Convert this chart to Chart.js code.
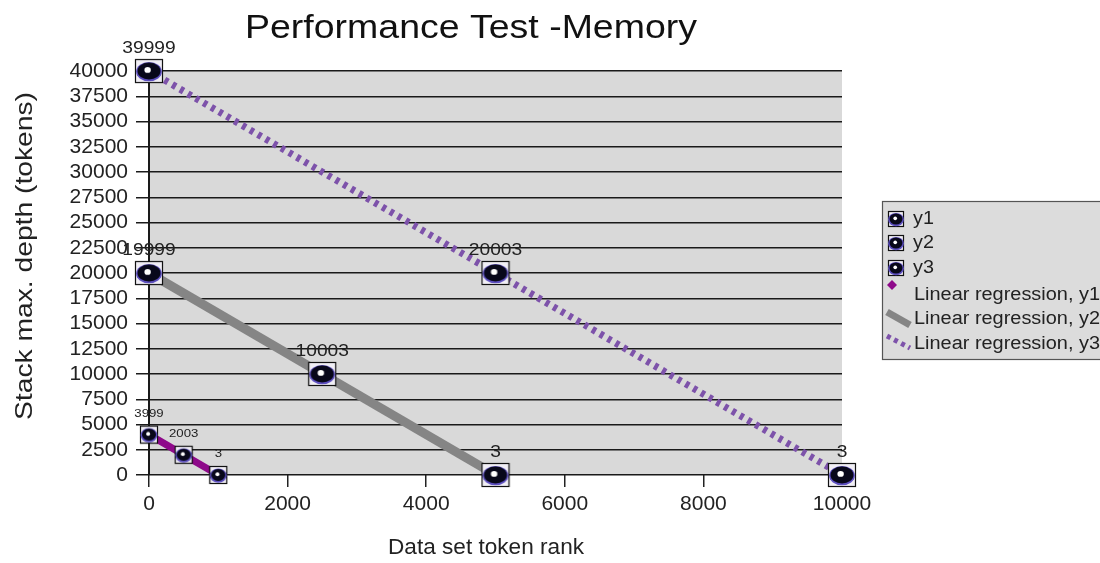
<!DOCTYPE html>
<html>
<head>
<meta charset="utf-8">
<script src="https://cdn.jsdelivr.net/npm/chart.js@4.4.0/dist/chart.umd.min.js"></script>
<style>
  html, body { margin: 0; padding: 0; background: #fff; }
  #wrap { width: 1100px; height: 563px; position: relative; }
</style>
</head>
<body>
<div id="wrap"><canvas id="memChart" width="1100" height="563"></canvas></div>
<script>
// Data
const xTicks = [0, 2000, 4000, 6000, 8000, 10000];
const y1X = [0, 500, 1000];
const y1Values = [3999, 2003, 3];
const y2X = [0, 2500, 5000];
const y2Values = [19999, 10003, 3];
const y3X = [0, 5000, 10000];
const y3Values = [39999, 20003, 3];
const seriesNames = ["y1", "y2", "y3"];
const regressionNames = ["Linear regression, y1", "Linear regression, y2", "Linear regression, y3"];

const FONT = "'Liberation Sans', Arial, sans-serif";
const regColors = ["#8e0a8a", "#858585", "#7d52aa"];

// least squares line through a series, returned as its two end points
function regression(xs, ys) {
    const n = xs.length;
    const mx = xs.reduce((a, b) => a + b, 0) / n;
    const my = ys.reduce((a, b) => a + b, 0) / n;
    let num = 0, den = 0;
    for (let i = 0; i < n; i++) {
        num += (xs[i] - mx) * (ys[i] - my);
        den += (xs[i] - mx) * (xs[i] - mx);
    }
    const slope = num / den;
    const b = my - slope * mx;
    const x0 = Math.min(...xs), x1 = Math.max(...xs);
    return [{ x: x0, y: slope * x0 + b }, { x: x1, y: slope * x1 + b }];
}

function toPoints(xs, ys) {
    return xs.map((x, i) => ({ x: x, y: ys[i] }));
}

// boxed ball marker like the original
function makeMarker(w, h, rx, ry) {
    const c = document.createElement("canvas");
    c.width = w + 2;
    c.height = h + 2;
    const g = c.getContext("2d");
    g.fillStyle = "#f1eff5";
    g.fillRect(1, 1, w, h);
    g.strokeStyle = "#111";
    g.lineWidth = 1.2;
    g.strokeRect(1.5, 1.5, w - 1, h - 1);
    const cx = c.width / 2, cy = c.height / 2;
    g.fillStyle = "#5d4fc0";
    g.beginPath(); g.ellipse(cx, cy + 0.6, rx + 1.4, ry + 1.2, 0, 0, Math.PI * 2); g.fill();
    g.fillStyle = "#08081a";
    g.beginPath(); g.ellipse(cx, cy, rx, ry, 0, 0, Math.PI * 2); g.fill();
    g.fillStyle = "#ffffff";
    g.beginPath(); g.ellipse(cx - rx * 0.12, cy - ry * 0.12, rx * 0.28, ry * 0.34, 0, 0, Math.PI * 2); g.fill();
    return c;
}

const smallMarker = makeMarker(18, 18, 7, 6);
const bigMarker = makeMarker(28, 24, 11.5, 8.5);
const legendMarker = makeMarker(16, 16, 6.5, 5.5);

// draws text squeezed or stretched to a given width
function fitText(ctx, text, x, y, font, width, angle) {
    ctx.save();
    ctx.font = font;
    ctx.textAlign = "center";
    ctx.textBaseline = "middle";
    const w = ctx.measureText(text).width;
    ctx.translate(x, y);
    if (angle) ctx.rotate(angle);
    ctx.scale(width / w, 1);
    ctx.fillText(text, 0, 0);
    ctx.restore();
}

// grey plot area
const plotBackground = {
    id: "plotBackground",
    beforeDraw(chart) {
        const a = chart.chartArea;
        const ctx = chart.ctx;
        ctx.save();
        ctx.fillStyle = "#d9d9d9";
        ctx.fillRect(a.left, a.top, a.right - a.left, a.bottom - a.top);
        ctx.restore();
    }
};

// value labels above the points, titles and legend box
const extras = {
    id: "extras",
    afterDatasetsDraw(chart) {
        const ctx = chart.ctx;
        ctx.save();
        ctx.fillStyle = "#222";
        [0, 1, 2].forEach(di => {
            const meta = chart.getDatasetMeta(di);
            const ds = chart.data.datasets[di];
            const small = di === 0;
            const font = (small ? "11px " : "16px ") + FONT;
            ctx.font = font;
            meta.data.forEach((pt, i) => {
                const txt = String(ds.data[i].y);
                const w = ctx.measureText(txt).width * 1.2;
                fitText(ctx, txt, pt.x, pt.y - (small ? 21 : 22), font, w);
            });
        });
        ctx.restore();
    },
    afterDraw(chart) {
        const ctx = chart.ctx;
        ctx.save();
        ctx.fillStyle = "#111";
        fitText(ctx, "Performance Test -Memory", 471, 29, "33px " + FONT, 452);
        ctx.fillStyle = "#222";
        fitText(ctx, "Stack max. depth (tokens)", 25, 256, "24px " + FONT, 328, -Math.PI / 2);
        fitText(ctx, "Data set token rank", 486, 548, "22px " + FONT, 196);
        ctx.restore();

        // legend
        ctx.save();
        ctx.fillStyle = "#dcdcdc";
        ctx.fillRect(882, 201, 218, 159);
        ctx.strokeStyle = "#555";
        ctx.lineWidth = 1.2;
        ctx.strokeRect(882.5, 201.5, 230, 158);
        ctx.fillStyle = "#222";
        const rowY = [219, 243, 268, 295, 319, 344];
        ctx.font = "18px " + FONT;
        seriesNames.forEach((name, i) => {
            ctx.drawImage(legendMarker, 887, rowY[i] - 9);
            const w = ctx.measureText(name).width * 1.1;
            fitText(ctx, name, 913 + w / 2, rowY[i], "18px " + FONT, w);
        });
        regressionNames.forEach((name, i) => {
            fitText(ctx, name, 914 + 93, rowY[3 + i], "18px " + FONT, 186);
        });
        // LR y1 diamond
        let y = rowY[3] - 10;
        ctx.fillStyle = regColors[0];
        ctx.beginPath();
        ctx.moveTo(892, y - 5); ctx.lineTo(897, y); ctx.lineTo(892, y + 5); ctx.lineTo(887, y);
        ctx.closePath(); ctx.fill();
        // LR y2 thick line
        y = rowY[4];
        ctx.strokeStyle = regColors[1];
        ctx.lineWidth = 7;
        ctx.beginPath(); ctx.moveTo(887, y - 7); ctx.lineTo(910, y + 6); ctx.stroke();
        // LR y3 dashed line
        y = rowY[5];
        ctx.strokeStyle = regColors[2];
        ctx.lineWidth = 5;
        ctx.setLineDash([4, 4]);
        ctx.beginPath(); ctx.moveTo(887, y - 8); ctx.lineTo(910, y + 4); ctx.stroke();
        ctx.restore();
    }
};

const pointDefaults = { showLine: false, clip: false, order: 0, pointRadius: 14, pointHoverRadius: 14 };
const lineDefaults = { showLine: true, clip: false, order: 1, pointRadius: 0, fill: false, borderCapStyle: "butt" };

new Chart(document.getElementById("memChart"), {
    type: "scatter",
    data: {
        datasets: [
            { ...pointDefaults, label: seriesNames[0], data: toPoints(y1X, y1Values), pointStyle: smallMarker },
            { ...pointDefaults, label: seriesNames[1], data: toPoints(y2X, y2Values), pointStyle: bigMarker },
            { ...pointDefaults, label: seriesNames[2], data: toPoints(y3X, y3Values), pointStyle: bigMarker },
            { ...lineDefaults, label: regressionNames[0], data: regression(y1X, y1Values), borderColor: regColors[0], borderWidth: 7 },
            { ...lineDefaults, label: regressionNames[1], data: regression(y2X, y2Values), borderColor: regColors[1], borderWidth: 9 },
            { ...lineDefaults, label: regressionNames[2], data: regression(y3X, y3Values), borderColor: regColors[2], borderWidth: 7, borderDash: [4, 5] }
        ]
    },
    options: {
        responsive: false,
        animation: false,
        events: [],
        layout: { padding: { top: 71, right: 258, left: 0, bottom: 0 } },
        plugins: {
            legend: { display: false },
            title: { display: false },
            tooltip: { enabled: false }
        },
        scales: {
            x: {
                type: "linear",
                min: 0,
                max: 10000,
                afterBuildTicks: axis => { axis.ticks = xTicks.map(v => ({ value: v })); },
                afterFit: axis => { axis.height = 88; },
                grid: { drawOnChartArea: false, drawTicks: true, tickLength: 12, color: "#222", lineWidth: 1.5 },
                border: { display: false },
                ticks: { color: "#222", font: { family: FONT, size: 21 }, padding: 5, maxRotation: 0, callback: v => String(v) },
                title: { display: false }
            },
            y: {
                type: "linear",
                min: 0,
                max: 40000,
                ticks: { stepSize: 2500, color: "#222", font: { family: FONT, size: 21 }, padding: 8, autoSkip: false, callback: v => String(v) },
                afterFit: axis => { axis.width = 149; },
                grid: { color: "#1a1a1a", lineWidth: 1.5, tickLength: 13 },
                border: { display: true, color: "#1a1a1a", width: 2 },
                title: { display: false }
            }
        }
    },
    plugins: [plotBackground, extras]
});
</script>
</body>
</html>
